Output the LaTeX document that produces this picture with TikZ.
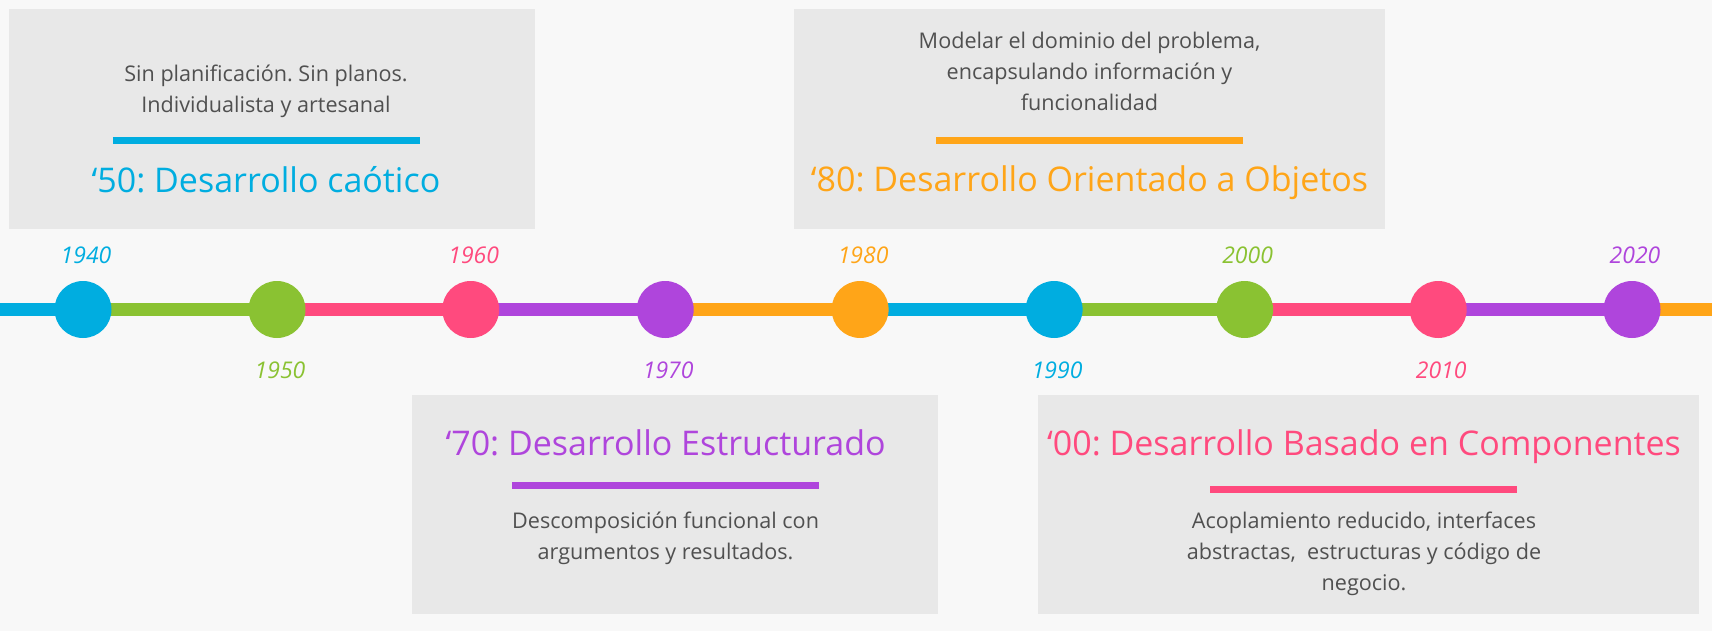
\documentclass[tikz,border=0pt]{standalone}
\usepackage{fontspec}
\setmainfont{Open Sans}
\frenchspacing
\definecolor{cBg}{HTML}{F8F8F8}
\definecolor{cBox}{HTML}{E8E8E8}
\definecolor{cText}{HTML}{505050}
\definecolor{cBlue}{HTML}{00ADE0}
\definecolor{cGreen}{HTML}{8AC232}
\definecolor{cPink}{HTML}{FF4A7E}
\definecolor{cPurple}{HTML}{AF45DC}
\definecolor{cOrange}{HTML}{FFA518}
\pgfdeclarelayer{pagebg}
\pgfdeclarelayer{lines}
\pgfsetlayers{pagebg,lines,main}
\begin{document}
\begin{tikzpicture}[x=1pt,y=-1pt,
  panelbox/.style={fill=cBox,draw=none},
  dotnode/.style={circle,minimum size=57pt,inner sep=0pt,fill=#1,draw=none},
  segline/.style={line width=13pt,draw=#1},
  rulebar/.style={line width=7pt,draw=#1},
  bodytext/.style={text=cText,font=\fontsize{21.6pt}{31pt}\selectfont,anchor=base,inner sep=0pt},
  headtext/.style={text=#1,font=\fontsize{34pt}{40pt}\selectfont,anchor=base,inner sep=0pt},
  yeartext/.style={text=#1,font=\itshape\fontsize{23pt}{28pt}\selectfont,anchor=base,inner sep=0pt},
]
\begin{pgfonlayer}{pagebg}
\fill[cBg] (0,0) rectangle (1712,631);
\end{pgfonlayer}
\useasboundingbox (0,0) rectangle (1712,631);

% panels
\fill[panelbox] (9,9) rectangle (534.6,228.7);
\fill[panelbox] (794,9) rectangle (1385,228.7);
\fill[panelbox] (412,395) rectangle (938,614.3);
\fill[panelbox] (1038,394.5) rectangle (1699,614.3);

% panel 1
\node[bodytext] (t1a) at (266,82) {Sin planificación. Sin planos.};
\node[bodytext] (t1b) at (266,113) {Individualista y artesanal};
\draw[rulebar=cBlue] (112.9,140.5) -- (419.6,140.5);
\node[headtext=cBlue] (h1) at (266,192.5) {‘50: Desarrollo caótico};

% panel 2
\node[bodytext] (t2a) at (1089.5,48.3) {Modelar el dominio del problema,};
\node[bodytext] (t2b) at (1089.5,79.5) {encapsulando información y};
\node[bodytext] (t2c) at (1089.5,111) {funcionalidad};
\draw[rulebar=cOrange] (936.2,140.5) -- (1242.6,140.5);
\node[headtext=cOrange] (h2) at (1089.5,191) {‘80: Desarrollo Orientado a Objetos};

% panel 3
\node[headtext=cPurple] (h3) at (665.6,455.5) {‘70: Desarrollo Estructurado};
\draw[rulebar=cPurple] (512.3,485) -- (819,485);
\node[bodytext] (t3a) at (665.6,528) {Descomposición funcional con};
\node[bodytext] (t3b) at (665.6,559.3) {argumentos y resultados.};

% panel 4
\node[headtext=cPink] (h4) at (1364,455.5) {‘00: Desarrollo Basado en Componentes};
\draw[rulebar=cPink] (1210.3,489) -- (1516.7,489);
\node[bodytext] (t4a) at (1364,528) {Acoplamiento reducido, interfaces};
\node[bodytext] (t4b) at (1364,559) {abstractas, \ estructuras y código de};
\node[bodytext] (t4c) at (1364,590) {negocio.};

% timeline dots
\node[dotnode=cBlue]   (c1) at (83,309.5) {};
\node[dotnode=cGreen]  (c2) at (277,309.5) {};
\node[dotnode=cPink]   (c3) at (470.7,309.5) {};
\node[dotnode=cPurple] (c4) at (665.2,309.5) {};
\node[dotnode=cOrange] (c5) at (860.1,309.5) {};
\node[dotnode=cBlue]   (c6) at (1054.1,309.5) {};
\node[dotnode=cGreen]  (c7) at (1244.6,309.5) {};
\node[dotnode=cPink]   (c8) at (1438.2,309.5) {};
\node[dotnode=cPurple] (c9) at (1632,309.5) {};
\coordinate (L) at (0,309.5);
\coordinate (R) at (1712,309.5);

\begin{pgfonlayer}{lines}
\draw[segline=cBlue]   (L) -- (c1.center);
\draw[segline=cGreen]  (c1.center) -- (c2.center);
\draw[segline=cPink]   (c2.center) -- (c3.center);
\draw[segline=cPurple] (c3.center) -- (c4.center);
\draw[segline=cOrange] (c4.center) -- (c5.center);
\draw[segline=cBlue]   (c5.center) -- (c6.center);
\draw[segline=cGreen]  (c6.center) -- (c7.center);
\draw[segline=cPink]   (c7.center) -- (c8.center);
\draw[segline=cPurple] (c8.center) -- (c9.center);
\draw[segline=cOrange] (c9.center) -- (R);
\end{pgfonlayer}

% years
\node[yeartext=cBlue]   (y1940) at (86,263) {1940};
\node[yeartext=cGreen]  (y1950) at (280,378) {1950};
\node[yeartext=cPink]   (y1960) at (473.7,263) {1960};
\node[yeartext=cPurple] (y1970) at (668.2,378) {1970};
\node[yeartext=cOrange] (y1980) at (863.1,263) {1980};
\node[yeartext=cBlue]   (y1990) at (1057.1,378) {1990};
\node[yeartext=cGreen]  (y2000) at (1247.6,263) {2000};
\node[yeartext=cPink]   (y2010) at (1441.2,378) {2010};
\node[yeartext=cPurple] (y2020) at (1635,263) {2020};
\end{tikzpicture}
\end{document}
